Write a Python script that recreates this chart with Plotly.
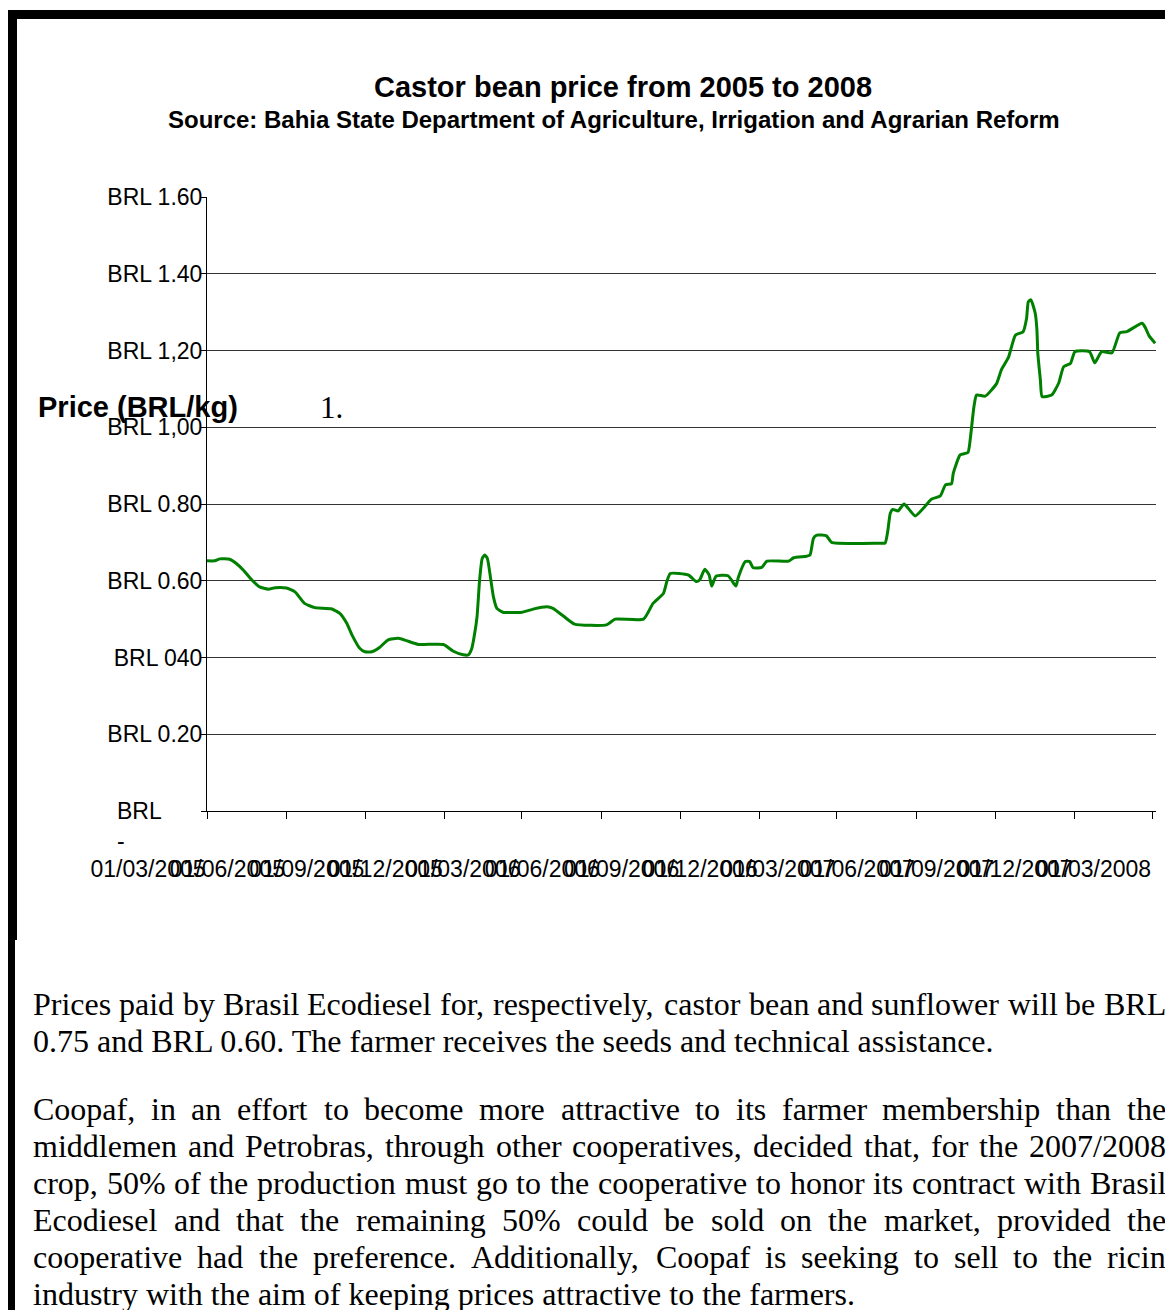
import plotly.graph_objects as go

# ---------------- data ----------------
dates = [
    "2005-03-01", "2005-03-10", "2005-03-16", "2005-03-27", "2005-04-04", "2005-04-12",
    "2005-04-22", "2005-05-01", "2005-05-11", "2005-05-19", "2005-06-01", "2005-06-11",
    "2005-06-22", "2005-07-04", "2005-07-23", "2005-08-02", "2005-08-10", "2005-08-16",
    "2005-08-25", "2005-08-31", "2005-09-08", "2005-09-17", "2005-09-27", "2005-10-09",
    "2005-10-18", "2005-11-01", "2005-11-30", "2005-12-11", "2005-12-23", "2005-12-29",
    "2006-01-02", "2006-01-05", "2006-01-08", "2006-01-11", "2006-01-14", "2006-01-17",
    "2006-01-20", "2006-01-24", "2006-01-27", "2006-01-31", "2006-02-07", "2006-03-01",
    "2006-03-14", "2006-03-30", "2006-04-06", "2006-04-18", "2006-05-01", "2006-06-07",
    "2006-06-17", "2006-07-20", "2006-07-31", "2006-08-12", "2006-08-16", "2006-08-20",
    "2006-09-10", "2006-09-19", "2006-09-23", "2006-09-29", "2006-10-04", "2006-10-07",
    "2006-10-12", "2006-10-26", "2006-11-04", "2006-11-07", "2006-11-15", "2006-11-20",
    "2006-11-24", "2006-12-04", "2006-12-10", "2007-01-04", "2007-01-10", "2007-01-25",
    "2007-01-29", "2007-02-02", "2007-02-06", "2007-02-17", "2007-02-23", "2007-04-20",
    "2007-04-26", "2007-04-29", "2007-05-02", "2007-05-05", "2007-05-11", "2007-05-18",
    "2007-05-31", "2007-06-19", "2007-06-29", "2007-07-05", "2007-07-12", "2007-07-14",
    "2007-07-22", "2007-07-31", "2007-08-03", "2007-08-07", "2007-08-10", "2007-08-20",
    "2007-09-02", "2007-09-08", "2007-09-16", "2007-09-24", "2007-10-03", "2007-10-07",
    "2007-10-09", "2007-10-12", "2007-10-17", "2007-10-19", "2007-10-20", "2007-10-23",
    "2007-10-25", "2007-11-05", "2007-11-13", "2007-11-19", "2007-11-27", "2007-12-02",
    "2007-12-19", "2007-12-25", "2008-01-02", "2008-01-14", "2008-01-23", "2008-01-31",
    "2008-02-18", "2008-02-22", "2008-02-26", "2008-03-04",
]
prices = [
    0.652, 0.652, 0.657, 0.656, 0.645, 0.628,
    0.602, 0.584, 0.578, 0.582, 0.581, 0.571,
    0.541, 0.530, 0.527, 0.515, 0.489, 0.459,
    0.424, 0.415, 0.415, 0.426, 0.446, 0.450,
    0.444, 0.434, 0.434, 0.417, 0.407, 0.407,
    0.424, 0.459, 0.506, 0.602, 0.658, 0.667,
    0.658, 0.602, 0.558, 0.528, 0.518, 0.518,
    0.526, 0.532, 0.528, 0.508, 0.487, 0.485,
    0.500, 0.500, 0.541, 0.567, 0.598, 0.619,
    0.615, 0.598, 0.602, 0.630, 0.615, 0.586,
    0.612, 0.613, 0.586, 0.610, 0.650, 0.650,
    0.634, 0.635, 0.651, 0.651, 0.660, 0.664,
    0.667, 0.711, 0.719, 0.717, 0.700, 0.698,
    0.698, 0.728, 0.776, 0.786, 0.782, 0.800,
    0.769, 0.813, 0.821, 0.850, 0.853, 0.880,
    0.928, 0.934, 0.975, 1.054, 1.084, 1.081,
    1.113, 1.151, 1.182, 1.240, 1.249, 1.284,
    1.327, 1.332, 1.297, 1.253, 1.193, 1.123,
    1.080, 1.084, 1.114, 1.158, 1.167, 1.197,
    1.197, 1.168, 1.197, 1.194, 1.246, 1.249,
    1.271, 1.258, 1.238, 1.219,
]

tick_dates = [
    "2005-03-01", "2005-06-01", "2005-09-01", "2005-12-01", "2006-03-01", "2006-06-01",
    "2006-09-01", "2006-12-01", "2007-03-01", "2007-06-01", "2007-09-01", "2007-12-01",
    "2008-03-01",
]
tick_labels = [
    "01/03/2005", "01/06/2005", "01/09/2005", "01/12/2005", "01/03/2006", "01/06/2006",
    "01/09/2006", "01/12/2006", "01/03/2007", "01/06/2007", "01/09/2007", "01/12/2007",
    "01/03/2008",
]
y_vals = [0, 0.2, 0.4, 0.6, 0.8, 1.0, 1.2, 1.4, 1.6]
y_labels = ["", "BRL 0.20", "BRL 040", "BRL 0.60", "BRL 0.80", "BRL 1,00",
            "BRL 1,20", "BRL 1.40", "BRL 1.60"]

title_text = "Castor bean price from 2005 to 2008"
subtitle_text = "Source: Bahia State Department of Agriculture, Irrigation and Agrarian Reform"
y_title_text = "Price (BRL/kg)"

para1_lines = [
    "Prices paid by Brasil Ecodiesel for, respectively, castor bean and sunflower will be BRL",
    "0.75 and BRL 0.60. The farmer receives the seeds and technical assistance.",
]
para2_lines = [
    "Coopaf, in an effort to become more attractive to its farmer membership than the",
    "middlemen and Petrobras, through other cooperatives, decided that, for the 2007/2008",
    "crop, 50% of the production must go to the cooperative to honor its contract with Brasil",
    "Ecodiesel and that the remaining 50% could be sold on the market, provided the",
    "cooperative had the preference. Additionally, Coopaf is seeking to sell to the ricin",
    "industry with the aim of keeping prices attractive to the farmers.",
]

# ---------------- layout geometry (page pixels; page body has an 8px margin) ----------------
OFF = 8
PAGE_W, PAGE_H = 1173, 1310
W, H = PAGE_W - OFF, PAGE_H - OFF
P_LEFT, P_RIGHT, P_TOP, P_BOTTOM = 207, 1156, 197, 811   # plot area in page pixels
ML, MT = P_LEFT - OFF, P_TOP - OFF
MR, MB = W - (P_RIGHT - OFF), H - (P_BOTTOM - OFF)
PW, PH = P_RIGHT - P_LEFT, P_BOTTOM - P_TOP


def px2x(px):
    return (px - P_LEFT) / PW


def py2y(py):
    return (P_BOTTOM - py) / PH


SANS = "Liberation Sans, Arial, sans-serif"
SERIF = "Liberation Serif, Times New Roman, serif"

# Times metrics (1/1000 em) for justification
TW = {" ": 250, "%": 833, "(": 333, ")": 333, ",": 250, "-": 333, ".": 250, "/": 278, ":": 278}
for d in "0123456789":
    TW[d] = 500
TW.update(dict(zip("ABCDEFGHIJKLMNOPQRSTUVWXYZ",
                   [722, 667, 667, 722, 611, 556, 722, 722, 333, 389, 722, 611, 889,
                    722, 722, 556, 722, 667, 556, 611, 722, 722, 944, 722, 722, 611])))
TW.update(dict(zip("abcdefghijklmnopqrstuvwxyz",
                   [444, 500, 444, 500, 444, 333, 500, 500, 278, 278, 500, 278, 778,
                    500, 500, 500, 500, 333, 389, 278, 500, 500, 722, 500, 500, 444])))


def word_w(word, size):
    return sum(TW.get(c, 500) for c in word) * size / 1000.0


fig = go.Figure()
fig.add_trace(go.Scatter(
    x=dates, y=prices, mode="lines",
    line=dict(color="#008000", width=3, shape="spline", smoothing=0.5),
    hoverinfo="skip", showlegend=False,
))

fig.update_layout(
    width=W, height=H,
    margin=dict(l=ML, r=MR, t=MT, b=MB, pad=0, autoexpand=False),
    paper_bgcolor="white", plot_bgcolor="white", showlegend=False,
)
fig.update_xaxes(
    type="date", range=["2005-03-01", "2008-03-05"],
    tickmode="array", tickvals=tick_dates, ticktext=tick_labels,
    ticks="outside", ticklen=7, tickcolor="black", tickwidth=1,
    showline=True, linecolor="black", linewidth=1,
    showgrid=False, zeroline=False, tickangle=0,
    tickfont=dict(family=SANS, size=23, color="black"),
    ticklabelshift=-59, ticklabelstandoff=30,
)
fig.update_yaxes(
    range=[0, 1.6], tickmode="array", tickvals=y_vals, ticktext=y_labels,
    ticks="outside", ticklen=5, tickcolor="black", tickwidth=1,
    showline=True, linecolor="black", linewidth=1,
    showgrid=True, gridcolor="#333333", gridwidth=1, zeroline=False,
    tickfont=dict(family=SANS, size=23, color="black"),
    ticklabelstandoff=-6,
)


def ann(px, py, text, size, family, xanchor="left", yanchor="middle", align="left"):
    fig.add_annotation(
        x=px2x(px), y=py2y(py), xref="paper", yref="paper", text=text,
        showarrow=False, xanchor=xanchor, yanchor=yanchor, align=align,
        font=dict(family=family, size=size, color="black"), borderpad=0,
    )


# titles
ann(623, 87, "<b>" + title_text + "</b>", 29, SANS, xanchor="center")
ann(614, 120, "<b>" + subtitle_text + "</b>", 24, SANS, xanchor="center")
ann(37, 407, "<b>" + y_title_text + "</b>", 29, SANS)
ann(319, 407, "1.", 31, SERIF)
# zero tick label
ann(116, 797, "BRL<br>-", 23, SANS, yanchor="top")

# body text (justified)
BODY = 32
LEFT, RIGHT = 32, 1165


def draw_para(lines, base0, step):
    for i, line in enumerate(lines):
        mid = base0 + i * step - 11
        last = i == len(lines) - 1
        if last:
            ann(LEFT, mid, line, BODY, SERIF)
            continue
        words = line.split(" ")
        ws = [word_w(w, BODY) for w in words]
        gap = (RIGHT - LEFT - sum(ws)) / (len(words) - 1)
        x = LEFT
        for w, wd in zip(words, ws):
            ann(x, mid, w, BODY, SERIF)
            x += wd + gap


draw_para(para1_lines, 1015, 37)
draw_para(para2_lines, 1120, 36.9)

# document border
for x0, x1, y0, y1 in [(8, 1180, 10, 19), (8, 17, 10, 940), (8, 15, 940, 1320)]:
    fig.add_shape(type="rect", xref="paper", yref="paper",
                  x0=px2x(x0), x1=px2x(x1), y0=py2y(y0), y1=py2y(y1),
                  fillcolor="black", line_width=0, layer="above")

fig.write_html("out.html")
